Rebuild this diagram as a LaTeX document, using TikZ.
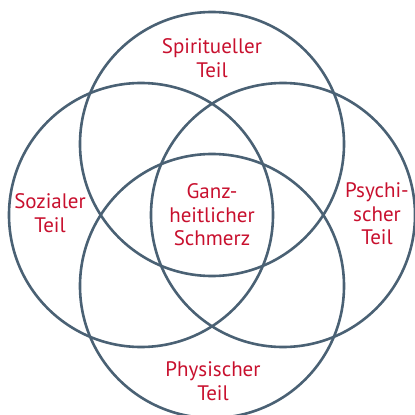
\documentclass[tikz,border=0pt]{standalone}
\usepackage{fontspec}
\setmainfont{PT Sans}
\usetikzlibrary{positioning}
\definecolor{venngray}{RGB}{74,97,116}
\definecolor{vennred}{RGB}{200,16,46}
\tikzset{
  ring/.style={draw=venngray, line width=2.6pt},
  partlbl/.style={align=center, text=vennred, inner sep=0pt,
      font=\fontsize{21}{23.5}\selectfont},
}

\begin{document}
\begin{tikzpicture}[x=1pt, y=-1pt]
  \useasboundingbox (0,0) rectangle (415,415);
  \coordinate (spirit) at (212,144);
  \coordinate (sozial) at (141,215);
  \coordinate (psych) at (283,215);
  \coordinate (phys) at (212,286);
  \draw[ring] (spirit) circle[radius=132pt];
  \draw[ring] (sozial) circle[radius=132pt];
  \draw[ring] (psych) circle[radius=132pt];
  \draw[ring] (phys) circle[radius=132pt];
  \node[partlbl] (spiritlbl) at (212,58) {Spiritueller\\Teil};
  \node[partlbl] (soziallbl) at (50,213) {Sozialer\\Teil};
  \node[partlbl] (psychlbl) at (377,214) {Psychi-\\scher\\Teil};
  \node[partlbl] (physlbl) at (213,381) {Physischer\\Teil};
  \node[partlbl] (ganzlbl) at (212,215) {Ganz-\\heitlicher\\Schmerz};
\end{tikzpicture}
\end{document}
